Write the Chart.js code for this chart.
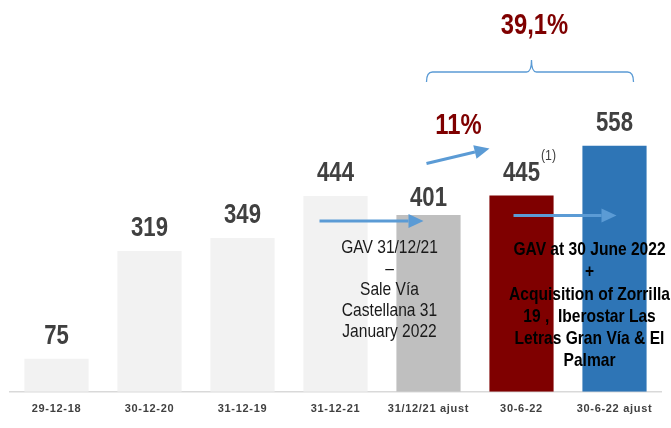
<!DOCTYPE html>
<html>
<head>
<meta charset="utf-8">
<script src="https://cdn.jsdelivr.net/npm/chart.js@4.4.1/dist/chart.umd.min.js"></script>
<style>
  html, body { margin: 0; padding: 0; background: #ffffff; overflow: hidden; }
  #wrap { width: 671px; height: 428px; }
</style>
</head>
<body>
<div id="wrap"><canvas id="gav-chart"></canvas></div>
<script>
// Categories (x axis)
const categories = ["29-12-18", "30-12-20", "31-12-19", "31-12-21", "31/12/21 ajust", "30-6-22", "30-6-22 ajust"];

// GAV values per date
const gavValues = [75, 319, 349, 444, 401, 445, 558];

// Growth labels
const growthShort = "11%";
const growthTotal = "39,1%";

// Notes under the bars
const noteSale = ["GAV 31/12/21", "\u2013", "Sale V\u00eda", "Castellana 31", "January 2022"];
const noteAcq = ["GAV at 30 June 2022", "+", "Acquisition of Zorrilla", "19 ,  Iberostar Las", "Letras Gran V\u00eda & El", "Palmar"];

const barColors = ["#F2F2F2", "#F2F2F2", "#F2F2F2", "#F2F2F2", "#BFBFBF", "#7F0000", "#2E75B6"];
const SANS = "'Liberation Sans', Arial, sans-serif";
const BLUE = "#5B9BD5";
const RED = "#7F0000";

// no narrow font installed: squeeze Liberation Sans horizontally
function narrowText(ctx, text, x, y, font) {
  ctx.save();
  ctx.font = font;
  ctx.translate(x, y);
  ctx.scale(0.82, 1);
  ctx.fillText(text, 0, 0);
  ctx.restore();
}

function drawArrow(ctx, x1, y1, x2, y2) {
  const ang = Math.atan2(y2 - y1, x2 - x1);
  const head = 15;
  const bx = x2 - head * Math.cos(ang);
  const by = y2 - head * Math.sin(ang);
  ctx.save();
  ctx.strokeStyle = BLUE;
  ctx.fillStyle = BLUE;
  ctx.lineWidth = 3;
  ctx.beginPath();
  ctx.moveTo(x1, y1);
  ctx.lineTo(bx, by);
  ctx.stroke();
  ctx.beginPath();
  ctx.moveTo(x2, y2);
  ctx.lineTo(bx + 7 * Math.sin(ang), by - 7 * Math.cos(ang));
  ctx.lineTo(bx - 7 * Math.sin(ang), by + 7 * Math.cos(ang));
  ctx.closePath();
  ctx.fill();
  ctx.restore();
}

// spaced-out tick labels
const tickSpacing = {
  id: "tickSpacing",
  beforeDraw(chart) { chart.ctx.letterSpacing = "0.7px"; },
  beforeDatasetsDraw(chart) { chart.ctx.letterSpacing = "0px"; }
};

// Labels, arrows, notes and the brace
const annotations = {
  id: "annotations",
  afterDatasetsDraw(chart) {
    const ctx = chart.ctx;
    const xs = chart.scales.x;
    const ys = chart.scales.y;
    const cx = (i) => xs.getPixelForValue(i);
    const top = (i) => ys.getPixelForValue(gavValues[i]);

    ctx.save();
    ctx.letterSpacing = "0px";
    ctx.textAlign = "center";
    ctx.textBaseline = "alphabetic";

    // value labels
    ctx.fillStyle = "#404040";
    gavValues.forEach((v, i) => {
      const gap = i === 4 ? 9 : 15;
      narrowText(ctx, String(v), cx(i), top(i) - gap, "bold 27px " + SANS);
    });
    // footnote mark on 445
    narrowText(ctx, "(1)", cx(5) + 27, top(5) - 36, "15px " + SANS);

    // arrows
    drawArrow(ctx, cx(3) - 16, top(4) + 6, cx(4) - 5, top(4) + 6);
    drawArrow(ctx, cx(5) - 8, top(5) + 20, cx(6) + 2, top(5) + 20);
    drawArrow(ctx, cx(4) - 2, top(5) - 32, cx(5) - 32, top(5) - 47);

    // growth labels
    ctx.fillStyle = RED;
    ctx.textBaseline = "middle";
    narrowText(ctx, growthShort, cx(4) + 30, top(5) - 70, "bold 29px " + SANS);
    narrowText(ctx, growthTotal, cx(5) + 13, 26, "bold 29px " + SANS);

    // brace
    const bl = cx(4) - 2, br = cx(6) + 19, by = 72, bm = cx(5) + 10;
    ctx.strokeStyle = BLUE;
    ctx.lineWidth = 1.3;
    ctx.beginPath();
    ctx.moveTo(bl, by + 10);
    ctx.quadraticCurveTo(bl, by, bl + 6, by);
    ctx.lineTo(bm - 5, by);
    ctx.quadraticCurveTo(bm, by, bm, by - 12);
    ctx.quadraticCurveTo(bm, by, bm + 5, by);
    ctx.lineTo(br - 6, by);
    ctx.quadraticCurveTo(br, by, br, by + 10);
    ctx.stroke();

    // notes
    ctx.fillStyle = "#1A1A1A";
    noteSale.forEach((t, k) => narrowText(ctx, t, cx(4) - 39, 248 + k * 21, "19px " + SANS));
    ctx.fillStyle = "#000000";
    noteAcq.forEach((t, k) => narrowText(ctx, t, cx(6) - 25, 250 + k * 22.2, "bold 19px " + SANS));
    ctx.restore();
  }
};

new Chart(document.getElementById("gav-chart"), {
  type: "bar",
  data: {
    labels: categories,
    datasets: [{
      label: "GAV",
      data: gavValues,
      backgroundColor: barColors,
      borderWidth: 0,
      barPercentage: 0.69,
      categoryPercentage: 1
    }]
  },
  options: {
    responsive: true,
    maintainAspectRatio: false,
    animation: false,
    layout: { padding: { left: 10, right: 10, top: 39, bottom: 1 } },
    plugins: { legend: { display: false }, tooltip: { enabled: false } },
    scales: {
      y: { display: false, min: 0, max: 800 },
      x: {
        grid: { display: false, drawTicks: false },
        border: { color: "#D9D9D9", width: 1.5 },
        ticks: {
          padding: 11,
          color: "#404040",
          maxRotation: 0,
          autoSkip: false,
          font: { family: SANS, size: 11, weight: "bold" }
        }
      }
    }
  },
  plugins: [tickSpacing, annotations]
});
</script>
</body>
</html>
